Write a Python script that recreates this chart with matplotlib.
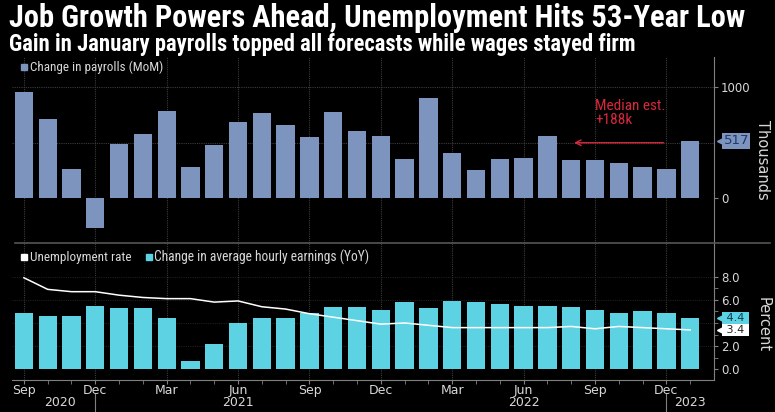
import matplotlib
matplotlib.use("Agg")
import matplotlib.pyplot as plt
from matplotlib import font_manager
from matplotlib.lines import Line2D
from matplotlib.ticker import FixedLocator, FormatStrFormatter
import numpy as np

# Sep 2020 .. Jan 2023, monthly
months = ["2020-09", "2020-10", "2020-11", "2020-12",
          "2021-01", "2021-02", "2021-03", "2021-04", "2021-05", "2021-06",
          "2021-07", "2021-08", "2021-09", "2021-10", "2021-11", "2021-12",
          "2022-01", "2022-02", "2022-03", "2022-04", "2022-05", "2022-06",
          "2022-07", "2022-08", "2022-09", "2022-10", "2022-11", "2022-12",
          "2023-01"]

# change in nonfarm payrolls, thousands
payrolls = [955, 716, 260, -269, 493, 576, 785, 284, 478, 687, 764, 660, 549, 776,
            606, 561, 358, 904, 412, 254, 358, 364, 561, 349, 349, 322, 284, 260, 517]

# average hourly earnings, % YoY
earnings = [4.9, 4.6, 4.6, 5.5, 5.3, 5.3, 4.4, 0.7, 2.2, 4.0, 4.4, 4.4, 4.9, 5.4,
            5.4, 5.1, 5.8, 5.3, 5.9, 5.8, 5.6, 5.5, 5.5, 5.4, 5.1, 4.9, 5.0, 4.9, 4.4]

# unemployment rate, %
unemployment = [7.9, 6.9, 6.7, 6.7, 6.4, 6.2, 6.1, 6.1, 5.8, 5.9, 5.4, 5.2, 4.8, 4.5,
                4.2, 3.9, 4.0, 3.8, 3.6, 3.6, 3.6, 3.6, 3.6, 3.7, 3.5, 3.7, 3.6, 3.5, 3.4]

month_names = ["Jan", "Feb", "Mar", "Apr", "May", "Jun",
               "Jul", "Aug", "Sep", "Oct", "Nov", "Dec"]
quarter_months = ["Mar", "Jun", "Sep", "Dec"]
year_labels = ["2020", "2021", "2022", "2023"]
year_label_pos = [1.5, 9, 21, 28]
year_sep_pos = [3, 27]

BG = "black"
PAY_C = "#7c94be"
EARN_C = "#5cd2e2"
GRID_C = "#3c3c3c"
AXIS_C = "#808080"
TXT_C = "#d8d8d8"
RED = "#d8283c"

# pick a narrow face if one is around, else the narrowest of the usual ones
names = {f.name for f in font_manager.fontManager.ttflist}
NARROW = "DejaVu Sans"
for cand in ("Liberation Sans Narrow", "Roboto Condensed", "Roboto", "Liberation Sans"):
    if cand in names:
        NARROW = cand
        break

x = np.arange(len(months))
mnames = [month_names[int(m[5:]) - 1] for m in months]
qidx = [i for i, m in enumerate(mnames) if m in quarter_months]
qlab = [mnames[i] for i in qidx]

W, H = 775, 412
fig = plt.figure(figsize=(W / 100, H / 100), dpi=100, facecolor=BG)


def fx(px):
    return px / W


def fy(py):
    return 1 - py / H


L, R = 12, 714
ax1 = fig.add_axes([fx(L), fy(243), fx(R - L), fy(57) - fy(243)], facecolor=BG)
ax2 = fig.add_axes([fx(L), fy(380), fx(R - L), fy(243) - fy(380)], facecolor=BG)

for ax in (ax1, ax2):
    ax.set_xlim(-0.5, len(months))
    for s in ("left", "top"):
        ax.spines[s].set_visible(False)
    ax.spines["right"].set_color(AXIS_C)
    ax.spines["bottom"].set_color(AXIS_C)
    ax.yaxis.tick_right()
    ax.tick_params(axis="y", colors=AXIS_C, labelcolor=TXT_C, labelsize=8.5,
                   length=3, which="both", pad=2)
    ax.set_xticks(qidx)
    ax.xaxis.grid(True, color=GRID_C, linestyle=(0, (1, 1)), linewidth=0.8)
    ax.set_axisbelow(True)

# top panel: payrolls
ax1.bar(x, payrolls, width=0.77, color=PAY_C, zorder=2)
ax1.set_ylim(-400, 1270)
ax1.set_yticks([0, 1000])
ax1.set_yticklabels(["0", "1000"])
for v in (500, 1000):
    ax1.axhline(v, color=GRID_C, linestyle=(0, (1, 1)), linewidth=0.8, zorder=1)
ax1.tick_params(axis="x", length=0, labelbottom=False)
ax1.spines["bottom"].set_visible(False)

# median estimate annotation
ax1.annotate("", xy=(23, 500), xytext=(27, 500),
             arrowprops=dict(arrowstyle="->", color=RED, lw=1.0, linestyle=(0, (1, 0.6))),
             zorder=3)
ax1.text(24, 640, "Median est.\n+188k", color=RED, fontsize=11, ha="left", va="bottom",
         linespacing=1.05, family=NARROW)


def value_tag(ax, val, label, fc, tc, size):
    tr = ax.get_yaxis_transform()
    ax.plot([1.008], [val], marker="<", ms=5, color=fc, transform=tr, clip_on=False, zorder=5)
    ax.text(1.0135, val, label, transform=tr, ha="left", va="center", fontsize=size, color=tc,
            bbox=dict(boxstyle="square,pad=0.1", fc=fc, ec="none"), zorder=5)


value_tag(ax1, payrolls[-1], f"{payrolls[-1]}", PAY_C, "#1e3a6a", 9.5)

# bottom panel: earnings bars + unemployment line
ax2.bar(x, earnings, width=0.77, color=EARN_C, zorder=2)
ax2.plot(x, unemployment, color="white", linewidth=1.1, zorder=3)
ax2.set_ylim(-0.92, 10.9)
ax2.yaxis.set_major_locator(FixedLocator([0, 2, 6, 8]))
ax2.yaxis.set_major_formatter(FormatStrFormatter("%.1f"))
ax2.yaxis.set_minor_locator(FixedLocator([1, 3, 4, 5, 7]))
for v in (2, 4, 6, 8):
    ax2.axhline(v, color="#1e1e1e", linestyle=(0, (1, 1)), linewidth=0.8, zorder=1)
ax2.set_xticklabels(qlab)
ax2.xaxis.set_minor_locator(FixedLocator(x))
ax2.tick_params(axis="x", which="both", colors=AXIS_C, labelcolor=TXT_C, labelsize=9,
                length=3, pad=0)

value_tag(ax2, earnings[-1], f" {earnings[-1]:.1f} ", EARN_C, "#0b3c4a", 8)
value_tag(ax2, unemployment[-1], f" {unemployment[-1]:.1f} ", "white", "#222222", 8)

# year labels and year separators
xt = ax2.get_xaxis_transform()
for lab, pos in zip(year_labels, year_label_pos):
    ax2.text(pos, -0.165, lab, transform=xt, ha="center", va="center", color=TXT_C, fontsize=9)
for pos in year_sep_pos:
    ax2.plot([pos, pos], [-0.1, -0.25], transform=xt, color=AXIS_C, lw=0.8, clip_on=False)

# separator between the panels, spanning the figure
fig.add_artist(Line2D([fx(15), fx(770)], [fy(243), fy(243)], color="#555555", lw=1.2))

# legends
fig.add_artist(Line2D([fx(24)], [fy(67)], marker="s", ms=5, color=PAY_C, lw=0))
leg1 = fig.text(fx(30), fy(67), "Change in payrolls (MoM)", color=TXT_C, fontsize=8,
                va="center", family=NARROW)
fig.add_artist(Line2D([fx(24)], [fy(257)], marker="s", ms=5, color="white", lw=0))
leg2 = fig.text(fx(30), fy(257), "Unemployment rate", color=TXT_C, fontsize=8,
                va="center", family=NARROW)
fig.add_artist(Line2D([fx(149)], [fy(257)], marker="s", ms=5, color=EARN_C, lw=0))
leg3 = fig.text(fx(154), fy(257), "Change in average hourly earnings (YoY)", color=TXT_C,
                fontsize=8, va="center", family=NARROW)

# axis unit labels
fig.text(fx(763), fy(160), "Thousands", rotation=270, color=TXT_C, fontsize=10.5,
         ha="center", va="center")
fig.text(fx(763), fy(325), "Percent", rotation=270, color=TXT_C, fontsize=10.5,
         ha="center", va="center")

# titles
title = fig.text(fx(9), fy(18), "Job Growth Powers Ahead, Unemployment Hits 53-Year Low",
                 color="white", fontsize=17, fontweight="bold", va="center", family=NARROW)
sub = fig.text(fx(9), fy(44), "Gain in January payrolls topped all forecasts while wages stayed firm",
               color="white", fontsize=12, fontweight="bold", va="center", family=NARROW)

# squeeze texts to the widths seen in the original
fig.canvas.draw()
rend = fig.canvas.get_renderer()
for t, wpx in ((title, 738), (sub, 628), (leg1, 133), (leg2, 102), (leg3, 216)):
    w = t.get_window_extent(rend).width
    t.set_fontsize(t.get_fontsize() * wpx / w)

fig.savefig("out.png", dpi=100, facecolor=BG)
